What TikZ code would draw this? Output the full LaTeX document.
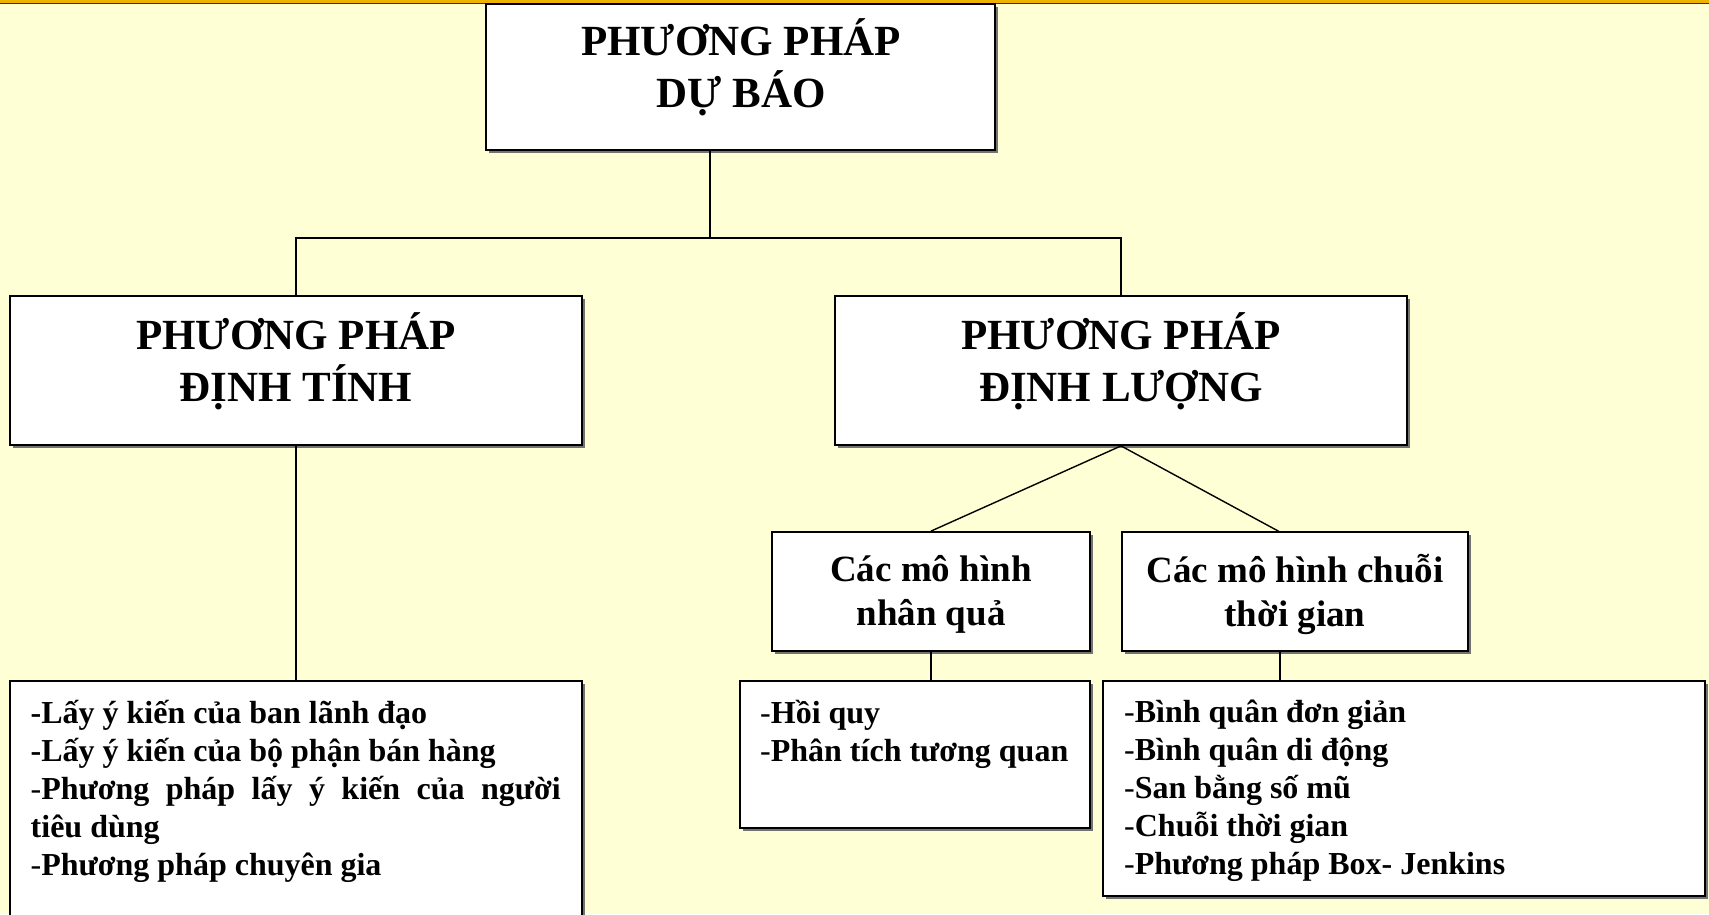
\documentclass[tikz,border=0pt]{standalone}
\usepackage{fontspec}
\setmainfont{Liberation Serif}
\usetikzlibrary{shadows}
\definecolor{paper}{RGB}{255,255,213}
\definecolor{topband}{RGB}{238,178,0}
\definecolor{topedge}{RGB}{70,50,0}
\newcommand{\rd}{\textmd{-}}
\begin{document}
\begin{tikzpicture}[x=1pt,y=-1pt,
  box/.style={draw=black, line width=1.8pt, fill=white, inner sep=0pt,
    drop shadow={shadow xshift=3pt, shadow yshift=-3pt, fill=black!55, opacity=1}},
  title/.style={font=\fontsize{43}{52}\selectfont\bfseries, align=center, inner sep=0pt},
  sub/.style={font=\fontsize{37}{44}\selectfont\bfseries, align=center, inner sep=0pt},
  items/.style={font=\fontsize{32}{38}\selectfont\bfseries, align=left, anchor=north west, inner sep=0pt},
  link/.style={line width=1.4pt}]
% page and top band
\useasboundingbox (0,0) rectangle (1709,914);
\fill[paper] (0,0) rectangle (1709,914);
\fill[topband] (0,0) rectangle (1709,3);
\draw[topedge, line width=1pt] (0,3.5) -- (1709,3.5);

% boxes
\node[box, minimum width=509pt, minimum height=146pt] (top) at (740.5,77) {};
\node[box, minimum width=572pt, minimum height=149pt] (lbox) at (296,370.5) {};
\node[box, minimum width=572pt, minimum height=149pt] (rbox) at (1121,370.5) {};
\node[box, minimum width=318pt, minimum height=119pt] (cause) at (931,591.5) {};
\node[box, minimum width=346pt, minimum height=119pt] (series) at (1295,591.5) {};
\node[box, minimum width=572pt, minimum height=249pt] (lbot) at (296,805.5) {};
\node[box, minimum width=350pt, minimum height=147pt] (mbot) at (915,754.5) {};
\node[box, minimum width=602pt, minimum height=215pt] (rbot) at (1404,788.5) {};

% box texts
\node[title] (topT) at (741,67) {PHƯƠNG PHÁP\\DỰ BÁO};
\node[title] (lboxT) at (296,361) {PHƯƠNG PHÁP\\ĐỊNH TÍNH};
\node[title] (rboxT) at (1121,361) {PHƯƠNG PHÁP\\ĐỊNH LƯỢNG};
\node[sub] (causeT) at (931,594) {Các mô hình\\nhân quả};
\node[sub] (seriesT) at (1295,594) {Các mô hình chuỗi\\thời gian};

\node[items] (lbotT) at (30.5,693) {\rule{0pt}{30pt}-Lấy ý kiến của ban lãnh đạo\\
  -Lấy ý kiến của bộ phận bán hàng\\
  \makebox[530pt][s]{\rd Phương pháp lấy ý kiến của người}\\
  tiêu dùng\\
  \rd Phương pháp chuyên gia};
\node[items] (mbotT) at (760,693) {\rule{0pt}{30pt}\rd Hồi quy\\
  \rd Phân tích tương quan};
\node[items] (rbotT) at (1124,692) {\rule{0pt}{30pt}\rd Bình quân đơn giản\\
  \rd Bình quân di động\\
  \rd San bằng số mũ\\
  \rd Chuỗi thời gian\\
  \rd Phương pháp Box- Jenkins};

% connectors
\coordinate (split) at (710,238);
\coordinate (seriesIn) at (1280,532);
\draw[link] (split |- top.south) -- (split);
\draw[link] (lbox.north) |- (split) -| (rbox.north);
\draw[link] (lbox.south) -- (lbot.north);
\draw[link] (rbox.south) -- (cause.north);
\draw[link] (rbox.south) -- (seriesIn);
\draw[link] (cause.south) -- (cause.south |- mbot.north);
\draw[link] (seriesIn |- series.south) -- (seriesIn |- rbot.north);
\end{tikzpicture}
\end{document}
